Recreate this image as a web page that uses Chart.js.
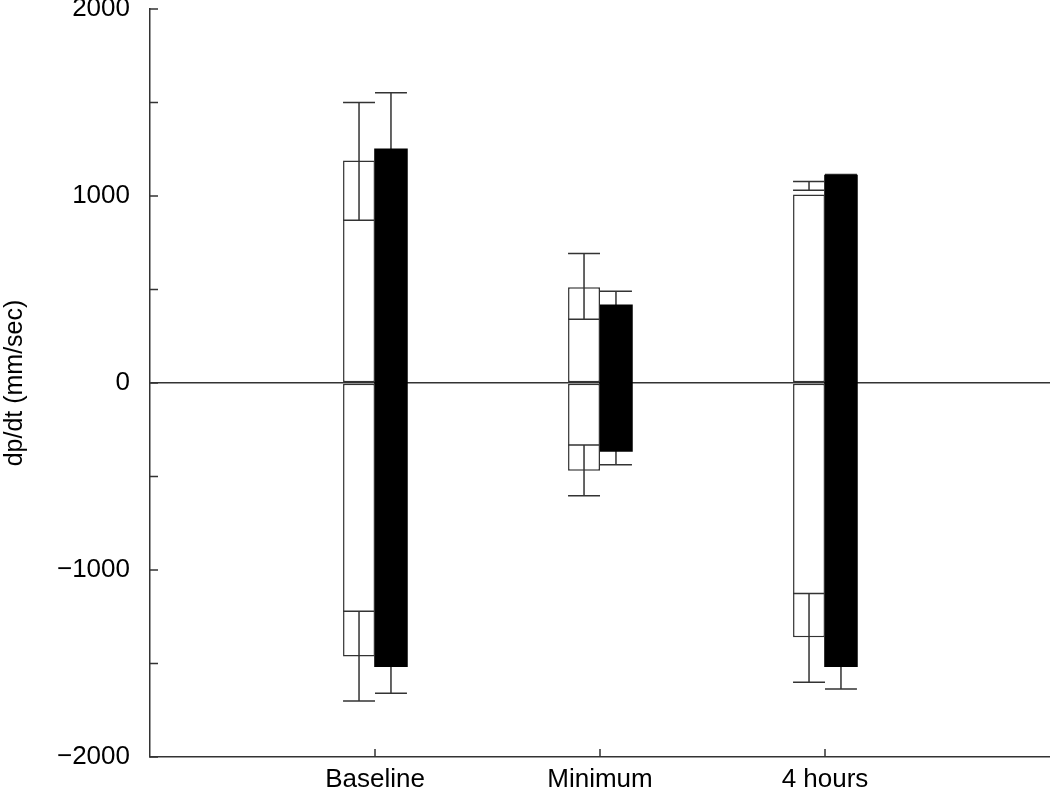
<!DOCTYPE html>
<html>
<head>
<meta charset="utf-8">
<script src="https://cdn.jsdelivr.net/npm/chart.js@4/dist/chart.umd.min.js"></script>
<style>
  html, body { margin: 0; padding: 0; background: #fff; }
  #wrap { width: 1050px; height: 791px; }
</style>
</head>
<body>
<div id="wrap"><canvas id="chart"></canvas></div>
<script>
// categories along the x axis
const categories = ['Baseline', 'Minimum', '4 hours'];

// open (white) bars: positive and negative means
const openPos = [1190, 512, 1008];
const openNeg = [-1462, -469, -1360];
// filled (black) bars
const filledPos = [1250, 416, 1109];
const filledNeg = [-1515, -363, -1515];

// error bar ends (low / high) for each bar
const openPosLow = [870, 341, 1031];
const openPosHigh = [1500, 693, 1077];
const openNegLow = [-1701, -603, -1600];
const openNegHigh = [-1221, -331, -1125];
const filledPosLow = [950, 341, 1105];
const filledPosHigh = [1552, 491, 1115];
const filledNegLow = [-1659, -437, -1637];
const filledNegHigh = [-1371, -289, -1393];

// y axis ticks
const yTicks = [-2000, -1500, -1000, -500, 0, 500, 1000, 1500, 2000];
const yLabelled = [-2000, -1000, 0, 1000, 2000];

const FONT = '"Liberation Sans", Arial, Helvetica, sans-serif';
const INK = '#333';

// pad the category axis with an empty slot on each side
const labels = ['', ...categories, ''];
const pad = arr => [null, ...arr, null];

const errors = [
  { low: openPosLow, high: openPosHigh, front: true },
  { low: openNegLow, high: openNegHigh, front: true },
  { low: filledPosLow, high: filledPosHigh, front: false },
  { low: filledNegLow, high: filledNegHigh, front: false }
];

function drawErrors(chart, front) {
  const ctx = chart.ctx;
  const y = chart.scales.y;
  ctx.save();
  ctx.strokeStyle = INK;
  ctx.lineWidth = 1.5;
  errors.forEach((err, di) => {
    if (err.front !== front) return;
    const meta = chart.getDatasetMeta(di);
    meta.data.forEach((bar, j) => {
      const k = j - 1;
      if (k < 0 || k >= categories.length) return;
      const half = bar.width / 2;
      const y1 = y.getPixelForValue(err.low[k]);
      const y2 = y.getPixelForValue(err.high[k]);
      ctx.beginPath();
      ctx.moveTo(bar.x, y1);
      ctx.lineTo(bar.x, y2);
      ctx.moveTo(bar.x - half, y1);
      ctx.lineTo(bar.x + half, y1);
      ctx.moveTo(bar.x - half, y2);
      ctx.lineTo(bar.x + half, y2);
      ctx.stroke();
    });
  });
  ctx.restore();
}

// filled bars hide the inner half of their error bars, open bars show it
const errorBars = {
  id: 'errorBars',
  beforeDatasetsDraw(chart) { drawErrors(chart, false); },
  afterDatasetsDraw(chart) { drawErrors(chart, true); }
};

// inward tick marks on both axes
const innerTicks = {
  id: 'innerTicks',
  afterDraw(chart) {
    const ctx = chart.ctx;
    const { left, bottom } = chart.chartArea;
    const x = chart.scales.x;
    const y = chart.scales.y;
    ctx.save();
    ctx.strokeStyle = INK;
    ctx.lineWidth = 1.5;
    ctx.beginPath();
    yTicks.forEach(v => {
      const py = y.getPixelForValue(v);
      ctx.moveTo(left, py);
      ctx.lineTo(left + 8, py);
    });
    categories.forEach((c, i) => {
      const px = x.getPixelForValue(i + 1);
      ctx.moveTo(px, bottom);
      ctx.lineTo(px, bottom - 8);
    });
    ctx.stroke();
    ctx.restore();
  }
};

const barCommon = {
  borderWidth: 1.5,
  borderSkipped: false,
  categoryPercentage: 0.284,
  barPercentage: 1.0
};

new Chart(document.getElementById('chart'), {
  type: 'bar',
  data: {
    labels: labels,
    datasets: [
      { ...barCommon, data: pad(openPos), stack: 'open', backgroundColor: '#fff', borderColor: INK },
      { ...barCommon, data: pad(openNeg), stack: 'open', backgroundColor: '#fff', borderColor: INK },
      { ...barCommon, data: pad(filledPos), stack: 'filled', backgroundColor: '#000', borderColor: '#000', borderWidth: 0, inflateAmount: 0.8 },
      { ...barCommon, data: pad(filledNeg), stack: 'filled', backgroundColor: '#000', borderColor: '#000', borderWidth: 0, inflateAmount: 0.8 }
    ]
  },
  options: {
    responsive: true,
    maintainAspectRatio: false,
    animation: false,
    layout: { padding: 0 },
    plugins: {
      legend: { display: false },
      tooltip: { enabled: false }
    },
    scales: {
      x: {
        stacked: true,
        offset: false,
        grid: { display: true, drawTicks: false, color: 'rgba(0,0,0,0)' },
        border: { display: true, color: INK, width: 1.5 },
        ticks: {
          color: '#000',
          padding: 7,
          maxRotation: 0,
          autoSkip: false,
          font: { family: FONT, size: 26 }
        },
        afterFit(scale) {
          scale.height = 34;
          scale.paddingLeft = 0;
          scale.paddingRight = 0;
        }
      },
      y: {
        stacked: true,
        min: -2000,
        max: 2000,
        grid: {
          drawTicks: false,
          lineWidth: 1.5,
          color: c => (c.tick && c.tick.value === 0 ? INK : 'rgba(0,0,0,0)')
        },
        border: { display: true, color: INK, width: 1.5 },
        ticks: {
          stepSize: 500,
          color: '#000',
          padding: 20,
          font: { family: FONT, size: 26 },
          callback: v => (yLabelled.includes(v) ? (v < 0 ? '\u2212' + Math.abs(v) : String(v)) : '')
        },
        title: {
          display: true,
          text: 'dp/dt (mm/sec)',
          color: '#000',
          padding: { top: 0, bottom: 0 },
          font: { family: FONT, size: 25 }
        },
        afterFit(scale) {
          scale.width = 150;
          scale.paddingTop = 9;
          scale.paddingBottom = 9;
        }
      }
    }
  },
  plugins: [errorBars, innerTicks]
});
</script>
</body>
</html>
